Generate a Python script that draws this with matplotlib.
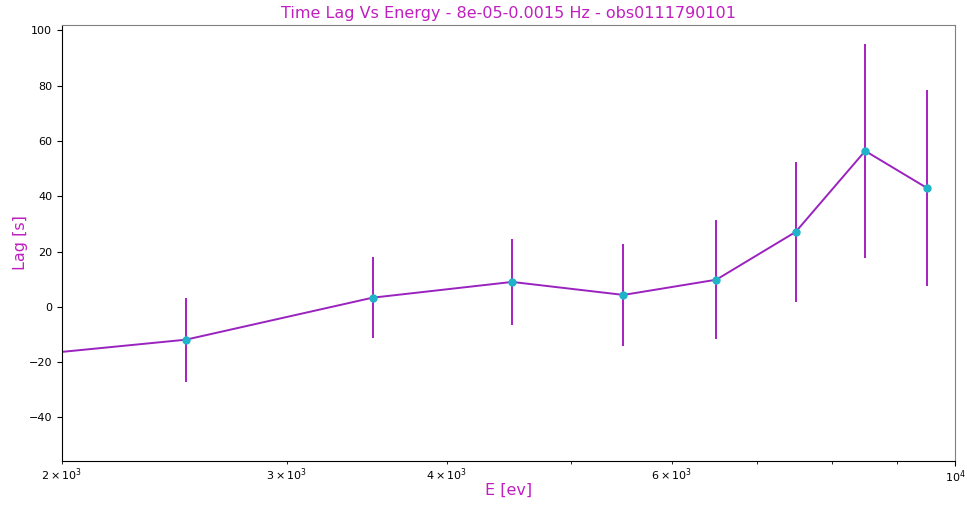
import numpy as np
import matplotlib
matplotlib.use('Agg')
import matplotlib.pyplot as plt

# energy bin centres [eV], lag [s] and 1-sigma lag error
energy = [1500, 2500, 3500, 4500, 5500, 6500, 7500, 8500, 9500]
lag = [-22.0, -11.9, 3.3, 9.0, 4.3, 9.8, 27.1, 56.4, 43.0]
lag_err = [15.0, 15.2, 14.6, 15.6, 18.6, 21.5, 25.3, 38.7, 35.6]

obs_id = 'obs0111790101'
f_lo, f_hi = 8e-05, 0.0015

fig, ax = plt.subplots(figsize=(9.67, 5.08), dpi=100)
ax.errorbar(energy, lag, yerr=lag_err, fmt='none', ecolor='#a51fc2', elinewidth=1.4)
ax.plot(energy, lag, '-', color='#9a22bf', lw=1.4)
ax.plot(energy, lag, 'o', color='#1fb3c9', ms=5)
ax.set_xscale('log')
ax.set_xlim(2000, 10000)
ax.set_ylim(-55.7, 102)
ax.tick_params(which='both', labelsize=8)
ax.tick_params(axis='x', which='both', pad=2)
for s in ('top', 'right'):
    ax.spines[s].set_color('#808080')
ax.set_title(f'Time Lag Vs Energy - {f_lo}-{f_hi} Hz - {obs_id}', color='#c01fc0', fontsize=11.5, pad=5)
ax.set_xlabel('E [ev]', color='#c01fc0', fontsize=11.5)
ax.xaxis.set_label_coords(0.5, -0.05)
ax.set_ylabel('Lag [s]', color='#c01fc0', fontsize=11.5)
ax.yaxis.set_label_coords(-0.038, 0.5)
fig.subplots_adjust(left=0.064, right=0.988, top=0.951, bottom=0.093)
fig.savefig('out.png', dpi=100)
